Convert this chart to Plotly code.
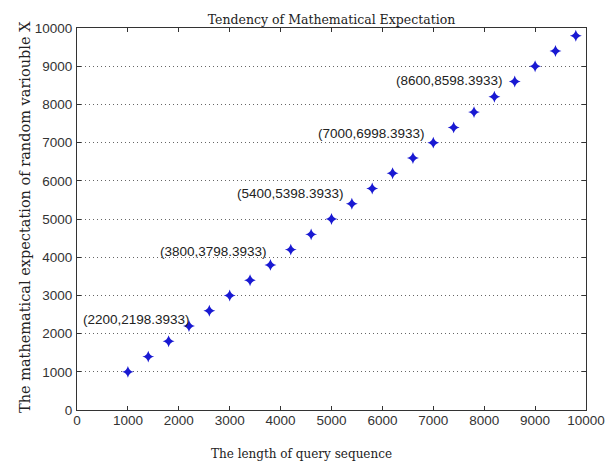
import plotly.graph_objects as go

seq_len = [1000, 1400, 1800, 2200, 2600, 3000, 3400, 3800, 4200, 4600, 5000, 5400,
           5800, 6200, 6600, 7000, 7400, 7800, 8200, 8600, 9000, 9400, 9800]
expectation = [998.3933, 1398.3933, 1798.3933, 2198.3933, 2598.3933, 2998.3933,
               3398.3933, 3798.3933, 4198.3933, 4598.3933, 4998.3933, 5398.3933,
               5798.3933, 6198.3933, 6598.3933, 6998.3933, 7398.3933, 7798.3933,
               8198.3933, 8598.3933, 8998.3933, 9398.3933, 9798.3933]
label_x = [2200, 3800, 5400, 7000, 8600]
label_y = [2198.3933, 3798.3933, 5398.3933, 6998.3933, 8598.3933]
tick_vals = [0, 1000, 2000, 3000, 4000, 5000, 6000, 7000, 8000, 9000, 10000]

# pixel offsets for label placement (style)
label_shift = [(3, 7), (-1, 13), (-6, 10), (-6, 9), (-10, 1)]

SERIF = "DejaVu Serif, Liberation Serif"
SANS = "Liberation Sans, Arial"

fig = go.Figure()
fig.add_trace(go.Scatter(
    x=seq_len, y=expectation, mode="markers",
    marker=dict(symbol="star-diamond", size=8.5, color="rgb(25,25,210)",
                line=dict(width=0)),
    showlegend=False, hoverinfo="x+y"))

for lx, ly, (dx, dy) in zip(label_x, label_y, label_shift):
    fig.add_annotation(x=lx, y=ly, text=f"({lx},{ly:.4f})", showarrow=False,
                       xanchor="right", yanchor="middle", xshift=dx, yshift=dy,
                       font=dict(family=SANS, size=13.5, color="#222"))

axis_common = dict(
    range=[0, 10000], tickvals=tick_vals, ticktext=[str(v) for v in tick_vals],
    ticks="inside", ticklen=4, tickcolor="#333", mirror="ticks",
    showline=True, linecolor="#333", linewidth=1, zeroline=False, automargin=False,
    tickfont=dict(family=SANS, size=13.5, color="#333"),
)

fig.update_xaxes(**axis_common, showgrid=False, ticklabelstandoff=-2)
fig.update_yaxes(**axis_common, showgrid=True, gridcolor="#666", griddash="1px,3px",
                 gridwidth=1, ticklabelstandoff=1)

# axis titles
fig.add_annotation(x=(301 - 77) / 509, y=-44 / 382, xref="paper", yref="paper",
                   text="The length of query sequence", showarrow=False,
                   xanchor="center", yanchor="middle",
                   font=dict(family=SERIF, size=12, color="#222"))
fig.add_annotation(x=(25 - 77) / 509, y=(410 - 217) / 382, xref="paper", yref="paper",
                   text="The mathematical expectation of random variouble X", showarrow=False,
                   textangle=-90, xanchor="center", yanchor="middle",
                   font=dict(family=SERIF, size=14.5, color="#222"))

# page has an ~8px body margin, so the figure is sized to fit the window
fig.update_layout(
    width=607, height=455,
    margin=dict(l=69, r=29, t=20, b=53),
    paper_bgcolor="white", plot_bgcolor="white",
    title=dict(text="Tendency of Mathematical Expectation", x=0.5, xanchor="center",
               xref="paper", y=1, yref="paper", yanchor="bottom", pad=dict(b=4),
               font=dict(family=SERIF, size=12.5, color="#222")),
)

fig.write_html("out.html")
